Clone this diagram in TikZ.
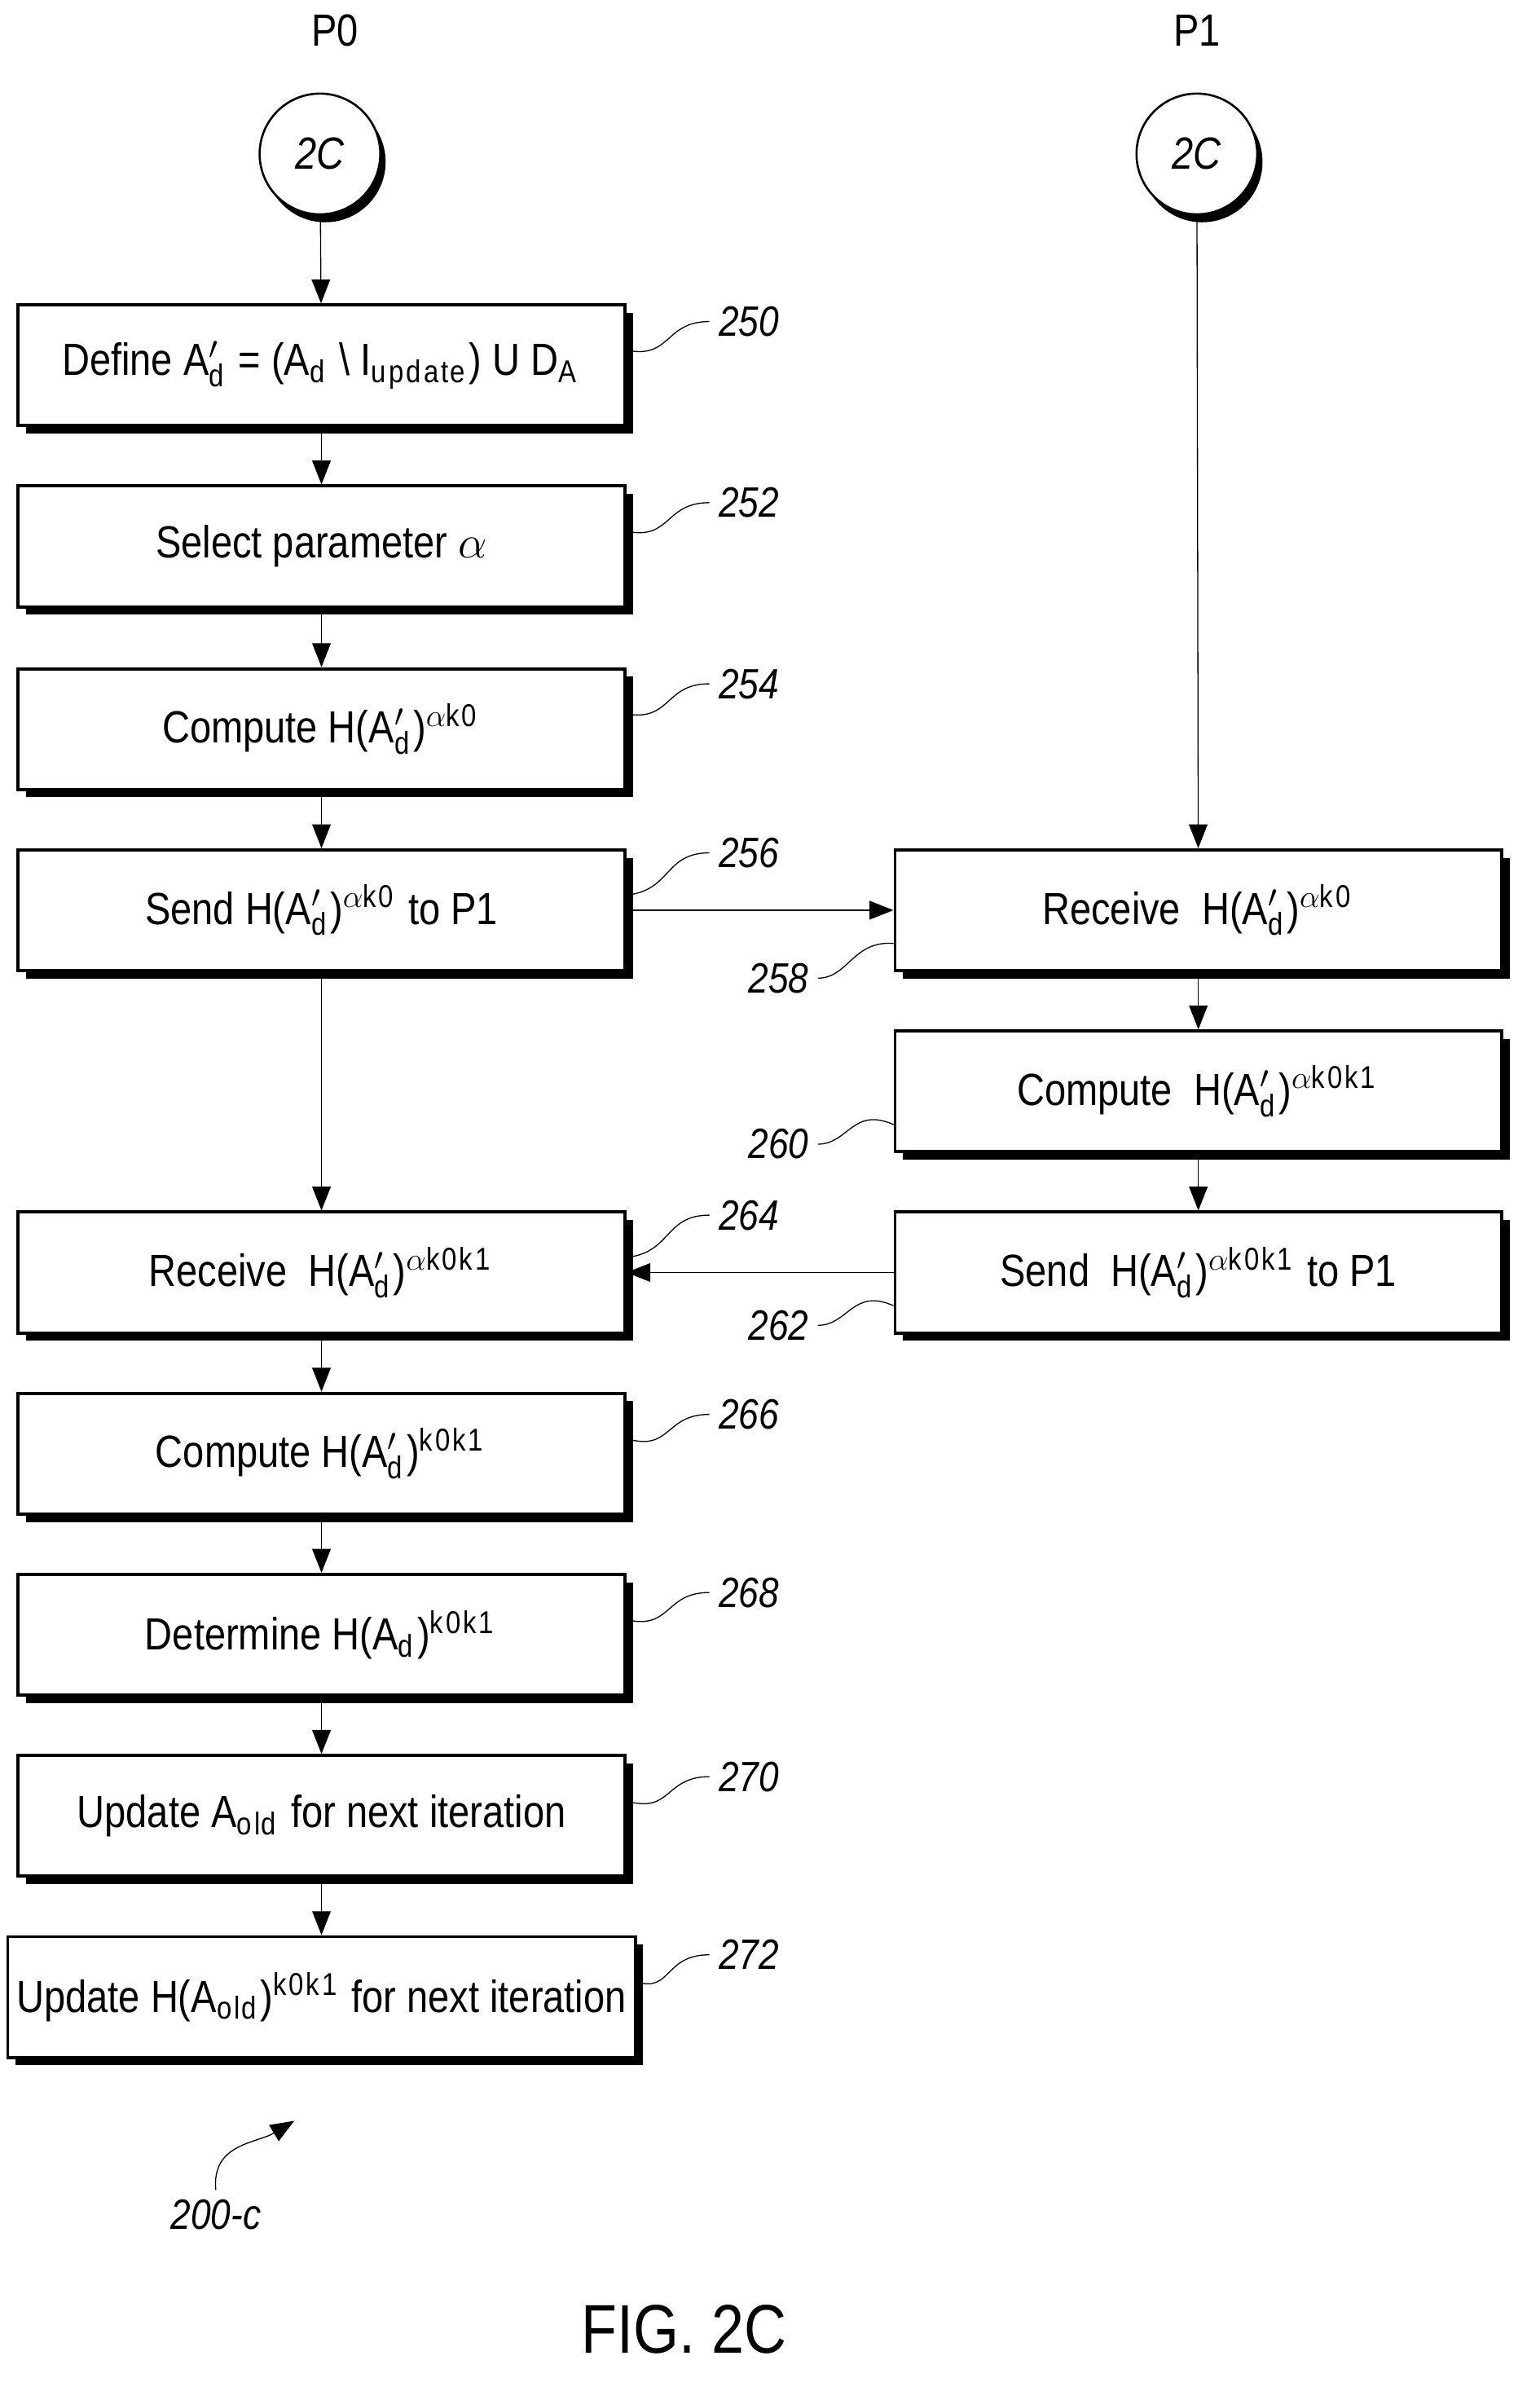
\documentclass[tikz,border=0pt]{standalone}
\usepackage{fontspec}
\setmainfont{Liberation Sans}[FakeStretch=0.85]
\usetikzlibrary{positioning,arrows.meta,shadows}

\begin{document}
\begin{tikzpicture}[x=0.02cm,y=-0.02cm,>={Triangle[length=9pt,width=7pt]},
    font=\fontsize{17}{20}\selectfont]
    \tikzset{
        stepbox/.style={draw,very thick,fill=white,minimum width=8.04cm,minimum height=1.6cm,
            drop shadow={shadow xshift=3pt,shadow yshift=-3pt,fill=black,opacity=1}},
        conn/.style={circle,draw,thick,fill=white,minimum size=1.6cm,font=\fontsize{17}{20}\selectfont\itshape,
            drop shadow={shadow xshift=2pt,shadow yshift=-3pt,fill=black,opacity=1}},
        ref/.style={font=\fontsize{16}{18}\selectfont\itshape},
        flow/.style={->,thin},
    }
    \useasboundingbox (0,0) rectangle (1020,1584);

    \node at (222,20) {P0};
    \node at (793,20) {P1};
    \node[conn] (c0) at (212,102) {2C};
    \node[conn] (c1) at (793,102) {2C};

    % left column
    \node[stepbox] (s250) at (213,242)  {Define A$'_{\mathrm{d}}$ = (A$_{\mathrm{d}}$ \textbackslash\ I$_{\mathrm{update}}$) U D$_{\mathrm{A}}$};
    \node[stepbox] (s252) at (213,362)  {Select parameter $\alpha$};
    \node[stepbox] (s254) at (213,483)  {Compute H(A$'_{\mathrm{d}}$)$^{\alpha\mathrm{k0}}$};
    \node[stepbox] (s256) at (213,603)  {Send H(A$'_{\mathrm{d}}$)$^{\alpha\mathrm{k0}}$ to P1};
    \node[stepbox] (s264) at (213,843)  {Receive\ \ H(A$'_{\mathrm{d}}$)$^{\alpha\mathrm{k0k1}}$};
    \node[stepbox] (s266) at (213,963)  {Compute H(A$'_{\mathrm{d}}$)$^{\mathrm{k0k1}}$};
    \node[stepbox] (s268) at (213,1083) {Determine H(A$_{\mathrm{d}}$)$^{\mathrm{k0k1}}$};
    \node[stepbox] (s270) at (213,1203) {Update A$_{\mathrm{old}}$ for next iteration};
    \node[stepbox] (s272) at (213,1323) {Update H(A$_{\mathrm{old}}$)$^{\mathrm{k0k1}}$ for next iteration};

    % right column
    \node[stepbox] (s258) at (794,603) {Receive\ \ H(A$'_{\mathrm{d}}$)$^{\alpha\mathrm{k0}}$};
    \node[stepbox] (s260) at (794,723) {Compute\ \ H(A$'_{\mathrm{d}}$)$^{\alpha\mathrm{k0k1}}$};
    \node[stepbox] (s262) at (794,843) {Send\ \ H(A$'_{\mathrm{d}}$)$^{\alpha\mathrm{k0k1}}$ to P1};

    \draw[flow] (c0) -- (s250);
    \draw[flow] (s250) -- (s252);
    \draw[flow] (s252) -- (s254);
    \draw[flow] (s254) -- (s256);
    \draw[flow] (s256) -- (s264);
    \draw[flow] (s264) -- (s266);
    \draw[flow] (s266) -- (s268);
    \draw[flow] (s268) -- (s270);
    \draw[flow] (s270) -- (s272);
    \draw[flow] (c1) -- (s258);
    \draw[flow] (s258) -- (s260);
    \draw[flow] (s260) -- (s262);
    \draw[flow] (s256) -- (s258);
    \draw[flow] (s262) -- (s264);

    % reference numerals
    \foreach \n/\y in {250/213,252/333,254/453,256/565,264/805,266/937,268/1055,270/1177,272/1295} {
        \node[ref,anchor=west] (r\n) at (470,\y) {\n};
        \draw[thin] ([yshift=0.2cm]s\n.east) .. controls (445,\y+25) and (440,\y) .. (r\n.west);
    }
    \foreach \n/\y in {258/648,260/758,262/878} {
        \node[ref,anchor=east] (r\n) at (542,\y) {\n};
        \draw[thin] ([yshift=-0.44cm]s\n.west) .. controls (565,\y-25) and (562,\y) .. (r\n.east);
    }

    \node[ref] (fig) at (143,1467) {200-c};
    \coordinate (tip) at (195,1405);
    \draw[->,thin] (fig.north) .. controls (140,1420) and (170,1420) .. (tip);

    \node[font=\fontsize{26}{30}\selectfont] at (453,1543) {FIG. 2C};
\end{tikzpicture}
\end{document}
